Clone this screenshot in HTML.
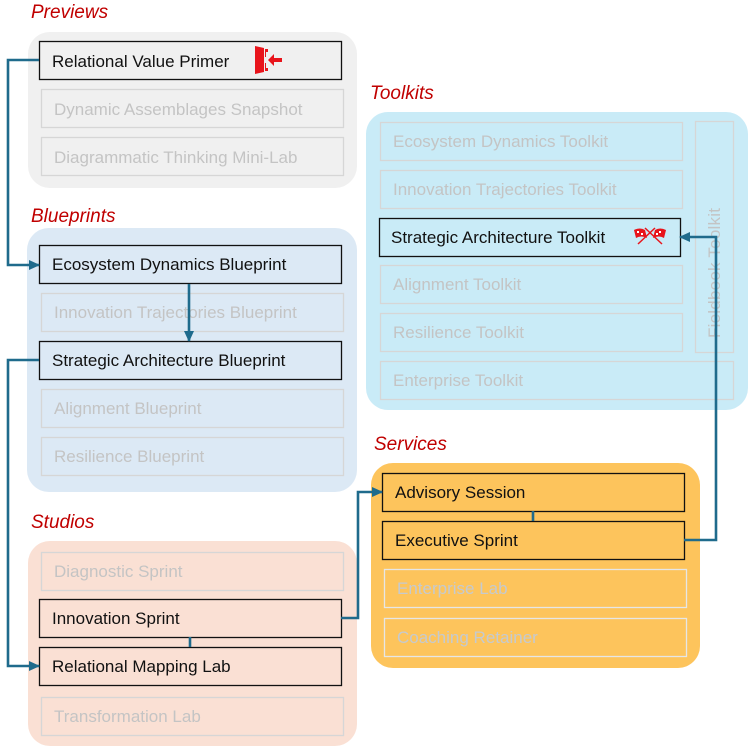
<!DOCTYPE html>
<html><head><meta charset="utf-8"><style>
html,body{margin:0;padding:0;background:#fff;}
svg{display:block;font-family:"Liberation Sans",Arial,sans-serif;}
.lbl{font-style:italic;fill:#c00000;font-size:19px;}
.t{font-size:17px;fill:#111;}
.g{font-size:17px;fill:#c4c4c4;}
.on{fill:none;stroke:#111;stroke-width:1.3;}
.off{fill:none;stroke:#d6d6d6;stroke-width:1.3;}
.c{fill:none;stroke:#1f6b8c;stroke-width:2.6;}
</style></head><body>
<svg width="755" height="753" viewBox="0 0 755 753">
<defs><marker id="a" markerWidth="11" markerHeight="10" refX="10" refY="5" orient="auto" markerUnits="userSpaceOnUse"><path d="M0,0 L11,5 L0,10 Z" fill="#1f6b8c"/></marker></defs>
<rect x="28" y="32" width="329" height="156" rx="22" fill="#f0f0f0"/>
<rect x="27" y="228" width="330" height="264" rx="22" fill="#dce9f5"/>
<rect x="28" y="541" width="329" height="205" rx="22" fill="#fae0d4"/>
<rect x="366" y="112" width="382" height="298" rx="22" fill="#c9ebf7"/>
<rect x="371" y="463" width="329" height="205" rx="22" fill="#fdc45c"/>
<text class="lbl" x="31" y="18">Previews</text>
<text class="lbl" x="31" y="222">Blueprints</text>
<text class="lbl" x="31" y="528">Studios</text>
<text class="lbl" x="370" y="99">Toolkits</text>
<text class="lbl" x="374" y="450">Services</text>
<rect class="on" x="39.5" y="41.5" width="302" height="38"/><text class="t" x="52" y="67">Relational Value Primer</text>
<g fill="#e8141b"><path d="M255,46 L264,48 L264,72 L255,74 Z"/><path d="M265,49 h3 v3 h-2 v5 h-1z M265,63 h1 v5 h2 v3 h-3z"/><path d="M268,60 L274,54 L274,58 L282,58 L282,62 L274,62 L274,66 Z"/></g>
<rect class="off" x="41.5" y="89.5" width="302" height="38"/><text class="g" x="54" y="115">Dynamic Assemblages Snapshot</text>
<rect class="off" x="41.5" y="137.5" width="302" height="38"/><text class="g" x="54" y="163">Diagrammatic Thinking Mini-Lab</text>
<rect class="on" x="39.5" y="245.5" width="302" height="38"/><text class="t" x="52" y="270">Ecosystem Dynamics Blueprint</text>
<rect class="off" x="41.5" y="293.5" width="302" height="38"/><text class="g" x="54" y="318">Innovation Trajectories Blueprint</text>
<rect class="on" x="39.5" y="341.5" width="302" height="38"/><text class="t" x="52" y="366">Strategic Architecture Blueprint</text>
<rect class="off" x="41.5" y="389.5" width="302" height="38"/><text class="g" x="54" y="414">Alignment Blueprint</text>
<rect class="off" x="41.5" y="437.5" width="302" height="38"/><text class="g" x="54" y="462">Resilience Blueprint</text>
<rect class="off" x="41.5" y="552.5" width="302" height="38"/><text class="g" x="54" y="577">Diagnostic Sprint</text>
<rect class="on" x="39.5" y="599.5" width="302" height="38"/><text class="t" x="52" y="624">Innovation Sprint</text>
<rect class="on" x="39.5" y="647.5" width="302" height="38"/><text class="t" x="52" y="672">Relational Mapping Lab</text>
<rect class="off" x="41.5" y="697.5" width="302" height="38"/><text class="g" x="54" y="722">Transformation Lab</text>
<rect class="off" x="380.5" y="122.5" width="302" height="38"/><text class="g" x="393" y="147">Ecosystem Dynamics Toolkit</text>
<rect class="off" x="380.5" y="170.5" width="302" height="38"/><text class="g" x="393" y="195">Innovation Trajectories Toolkit</text>
<rect class="off" x="380.5" y="265.5" width="302" height="38"/><text class="g" x="393" y="290">Alignment Toolkit</text>
<rect class="off" x="380.5" y="313.5" width="302" height="38"/><text class="g" x="393" y="338">Resilience Toolkit</text>
<rect class="off" x="380.5" y="361.5" width="353" height="38"/><text class="g" x="393" y="386">Enterprise Toolkit</text>
<rect class="off" x="695.5" y="121.5" width="38" height="231"/><text class="g" transform="translate(720,338) rotate(-90)" x="0" y="0" textLength="130">Fieldbook Toolkit</text>
<rect class="on" x="379.5" y="218.5" width="301" height="38"/><text class="t" x="391" y="243">Strategic Architecture Toolkit</text>
<g><path d="M638,244 L655,228 M662,244 L645,228" stroke="#e8141b" stroke-width="1.5"/>
<path d="M634,230 q6,-3 11,0 l2,8 q-6,-3 -11,0z" fill="#e8141b"/><path d="M666,230 q-6,-3 -11,0 l-2,8 q6,-3 11,0z" fill="#e8141b"/>
<rect x="637" y="231" width="2" height="2" fill="#fff"/><rect x="641" y="233" width="2" height="2" fill="#fff"/><rect x="659" y="231" width="2" height="2" fill="#fff"/><rect x="656" y="233" width="2" height="2" fill="#fff"/></g>
<rect class="on" x="382.5" y="473.5" width="302" height="38"/><text class="t" x="395" y="498">Advisory Session</text>
<rect class="on" x="382.5" y="521.5" width="302" height="38"/><text class="t" x="395" y="546">Executive Sprint</text>
<rect x="384.5" y="569.5" width="302" height="38" fill="none" stroke="#e6e6e6" stroke-width="1.3"/><text x="397" y="594" style="font-size:17px;fill:#c5cad0">Enterprise Lab</text>
<rect x="384.5" y="618.5" width="302" height="38" fill="none" stroke="#e6e6e6" stroke-width="1.3"/><text x="397" y="643" style="font-size:17px;fill:#c5cad0">Coaching Retainer</text>
<path class="c" d="M39,60 H8 V265 H39" marker-end="url(#a)"/>
<path class="c" d="M189,284 V341" marker-end="url(#a)"/>
<path class="c" d="M39,360 H8 V666 H39" marker-end="url(#a)"/>
<path class="c" d="M341,618 H358 V492 H382" marker-end="url(#a)"/>
<path class="c" d="M190,637 V647"/>
<path class="c" d="M533,511 V521"/>
<path class="c" d="M684,540 H716 V237 H680" marker-end="url(#a)"/>
</svg>
</body></html>
